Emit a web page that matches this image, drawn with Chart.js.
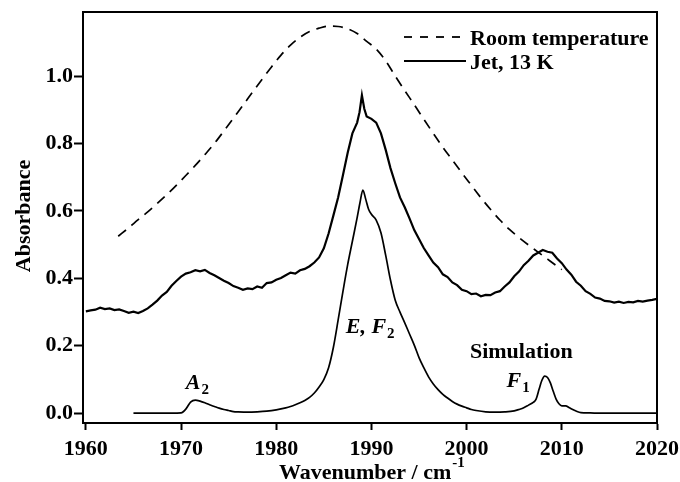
<!DOCTYPE html>
<html>
<head>
<meta charset="utf-8">
<script src="https://cdn.jsdelivr.net/npm/chart.js@4.4.1/dist/chart.umd.min.js"></script>
<style>
  html, body { margin: 0; padding: 0; background: #fff; }
  canvas { display: block; }
</style>
</head>
<body>
<canvas id="spectrum" width="680" height="482"></canvas>
<script>
// Axis ticks
const xTicks = [1960, 1970, 1980, 1990, 2000, 2010, 2020];
const yTicks = [0.0, 0.2, 0.4, 0.6, 0.8, 1.0];

// Room temperature band (dashed)
const roomWn = [1963.4, 1964.5, 1965.5, 1966.5, 1967.5, 1968.5, 1969.5, 1970.5, 1971.5, 1972.5,
  1973.5, 1974.5, 1975.5, 1976.5, 1977.5, 1978.5, 1979.5, 1980.5, 1981.5, 1982.5,
  1983.5, 1984.5, 1985.5, 1986.5, 1987.5, 1988.5, 1989.5, 1990.5, 1991.5, 1992.5,
  1993.5, 1994.5, 1995.5, 1996.5, 1997.5, 1998.5, 1999.5, 2000.5, 2001.5, 2002.5,
  2003.5, 2004.5, 2005.5, 2006.5, 2007.5, 2008.5, 2009.5, 2010.0];
const roomAbs = [0.525, 0.550, 0.574, 0.597, 0.622, 0.648, 0.676, 0.705, 0.735, 0.767,
  0.800, 0.837, 0.875, 0.913, 0.952, 0.990, 1.027, 1.062, 1.092, 1.115,
  1.132, 1.142, 1.148, 1.147, 1.140, 1.126, 1.103, 1.080, 1.045, 1.000,
  0.957, 0.915, 0.872, 0.830, 0.789, 0.751, 0.713, 0.676, 0.639, 0.605,
  0.573, 0.545, 0.521, 0.499, 0.478, 0.457, 0.436, 0.426];

// Jet spectrum, 13 K
const jetWn = [1960.0, 1960.5, 1961.0, 1961.5, 1962.0, 1962.5, 1963.0, 1963.5, 1964.0, 1964.5,
  1965.0, 1965.5, 1966.0, 1966.5, 1967.0, 1967.5, 1968.0, 1968.5, 1969.0, 1969.5,
  1970.0, 1970.5, 1971.0, 1971.5, 1972.0, 1972.5, 1973.0, 1973.5, 1974.0, 1974.5,
  1975.0, 1975.5, 1976.0, 1976.5, 1977.0, 1977.5, 1978.0, 1978.5, 1979.0, 1979.5,
  1980.0, 1980.5, 1981.0, 1981.5, 1982.0, 1982.5, 1983.0, 1983.5, 1984.0, 1984.5,
  1985.0, 1985.5, 1986.0, 1986.5, 1987.0, 1987.5, 1988.0, 1988.5, 1988.75, 1989.0,
  1989.25, 1989.5, 1990.0, 1990.5, 1991.0, 1991.5, 1992.0, 1992.5, 1993.0, 1993.5,
  1994.0, 1994.5, 1995.0, 1995.5, 1996.0, 1996.5, 1997.0, 1997.5, 1998.0, 1998.5,
  1999.0, 1999.5, 2000.0, 2000.5, 2001.0, 2001.5, 2002.0, 2002.5, 2003.0, 2003.5,
  2004.0, 2004.5, 2005.0, 2005.5, 2006.0, 2006.5, 2007.0, 2007.5, 2008.0, 2008.5,
  2009.0, 2009.5, 2010.0, 2010.5, 2011.0, 2011.5, 2012.0, 2012.5, 2013.0, 2013.5,
  2014.0, 2014.5, 2015.0, 2015.5, 2016.0, 2016.5, 2017.0, 2017.5, 2018.0, 2018.5,
  2019.0, 2019.5, 2020.0];
const jetAbs = [0.302, 0.305, 0.307, 0.313, 0.309, 0.311, 0.306, 0.308, 0.303, 0.298,
  0.301, 0.297, 0.303, 0.311, 0.322, 0.334, 0.349, 0.360, 0.378, 0.392,
  0.405, 0.414, 0.418, 0.424, 0.421, 0.425, 0.416, 0.409, 0.401, 0.393,
  0.386, 0.377, 0.372, 0.366, 0.370, 0.368, 0.376, 0.372, 0.386, 0.388,
  0.396, 0.401, 0.409, 0.417, 0.414, 0.424, 0.428, 0.436, 0.447, 0.462,
  0.489, 0.533, 0.586, 0.640, 0.705, 0.772, 0.830, 0.862, 0.893, 0.943,
  0.903, 0.880, 0.873, 0.862, 0.830, 0.781, 0.727, 0.682, 0.640, 0.611,
  0.578, 0.543, 0.517, 0.490, 0.468, 0.447, 0.433, 0.412, 0.404, 0.388,
  0.380, 0.366, 0.362, 0.353, 0.355, 0.347, 0.351, 0.350, 0.358, 0.362,
  0.376, 0.388, 0.406, 0.420, 0.439, 0.452, 0.468, 0.476, 0.484, 0.479,
  0.476, 0.459, 0.445, 0.426, 0.411, 0.390, 0.378, 0.362, 0.354, 0.343,
  0.340, 0.333, 0.332, 0.328, 0.331, 0.327, 0.330, 0.329, 0.333, 0.331,
  0.334, 0.336, 0.339];

// Simulated spectrum
const simWn = [1965.0, 1967.0, 1969.0, 1970.0, 1970.5, 1971.0, 1971.5, 1972.0, 1972.5, 1973.0,
  1973.5, 1974.0, 1974.5, 1975.0, 1975.5, 1976.0, 1977.0, 1978.0, 1979.0, 1980.0,
  1981.0, 1981.5, 1982.0, 1982.5, 1983.0, 1983.5, 1984.0, 1984.5, 1985.0, 1985.5,
  1986.0, 1986.5, 1987.0, 1987.5, 1988.0, 1988.5, 1988.8, 1989.1, 1989.4, 1989.7,
  1990.0, 1990.5, 1991.0, 1991.5, 1992.0, 1992.5, 1993.0, 1993.5, 1994.0, 1994.5,
  1995.0, 1995.5, 1996.0, 1996.5, 1997.0, 1997.5, 1998.0, 1998.5, 1999.0, 1999.5,
  2000.0, 2000.5, 2001.0, 2002.0, 2003.0, 2004.0, 2005.0, 2005.5, 2006.0, 2006.5,
  2007.0, 2007.3, 2007.6, 2007.9, 2008.2, 2008.5, 2008.8, 2009.1, 2009.4, 2009.7,
  2010.0, 2010.4, 2010.8, 2011.2, 2011.6, 2012.0, 2013.0, 2014.0, 2020.0];
const simAbs = [0.000, 0.000, 0.000, 0.001, 0.012, 0.033, 0.039, 0.036, 0.031, 0.025,
  0.020, 0.015, 0.011, 0.008, 0.005, 0.004, 0.003, 0.004, 0.006, 0.010,
  0.016, 0.020, 0.025, 0.031, 0.038, 0.047, 0.060, 0.078, 0.100, 0.135,
  0.195, 0.276, 0.360, 0.440, 0.510, 0.580, 0.625, 0.662, 0.635, 0.605,
  0.590, 0.573, 0.535, 0.468, 0.395, 0.335, 0.300, 0.268, 0.235, 0.202,
  0.165, 0.135, 0.108, 0.087, 0.070, 0.056, 0.045, 0.035, 0.027, 0.021,
  0.016, 0.011, 0.008, 0.004, 0.003, 0.004, 0.007, 0.011, 0.016, 0.024,
  0.032, 0.042, 0.070, 0.097, 0.110, 0.106, 0.090, 0.065, 0.042, 0.028,
  0.022, 0.022, 0.016, 0.010, 0.005, 0.002, 0.001, 0.000, 0.000];

const SERIF = '"Liberation Serif", "Times New Roman", serif';
const BOLD = 'bold 22px ' + SERIF;
const BOLD_ITALIC = 'italic bold 22px ' + SERIF;
const SMALL_BOLD = 'bold 15px ' + SERIF;

function pairs(xs, ys) {
  return xs.map((x, i) => ({ x: x, y: ys[i] }));
}

// frame, in-plot legend, peak labels and axis titles
const decorPlugin = {
  id: 'decor',
  afterDraw(chart) {
    const { ctx, chartArea: a, scales } = chart;
    const px = v => scales.x.getPixelForValue(v);
    const py = v => scales.y.getPixelForValue(v);
    ctx.save();

    ctx.strokeStyle = '#000';
    ctx.lineWidth = 2;
    ctx.strokeRect(a.left, a.top, a.right - a.left, a.bottom - a.top);

    // legend
    ctx.lineWidth = 1.8;
    ctx.setLineDash([8, 8]);
    ctx.beginPath(); ctx.moveTo(404, 37); ctx.lineTo(466, 37); ctx.stroke();
    ctx.setLineDash([]);
    ctx.lineWidth = 2.2;
    ctx.beginPath(); ctx.moveTo(404, 61); ctx.lineTo(466, 61); ctx.stroke();
    ctx.fillStyle = '#000';
    ctx.textBaseline = 'alphabetic';
    ctx.textAlign = 'left';
    ctx.font = BOLD;
    ctx.fillText('Room temperature', 470, 45);
    ctx.fillText('Jet, 13 K', 470, 69);

    // peak labels
    function subLabel(main, sub, x, y, italic) {
      ctx.font = italic ? BOLD_ITALIC : BOLD;
      ctx.fillText(main, x, y);
      const w = ctx.measureText(main).width;
      ctx.font = SMALL_BOLD;
      ctx.fillText(sub, x + w + 1, y + 5);
    }
    subLabel('A', '2', px(1970.5), py(0.072), true);
    ctx.font = BOLD_ITALIC;
    ctx.fillText('E, ', px(1987.3), py(0.238));
    const eW = ctx.measureText('E, ').width;
    subLabel('F', '2', px(1987.3) + eW, py(0.238), true);
    ctx.font = BOLD;
    ctx.fillText('Simulation', px(2000.35), py(0.164));
    subLabel('F', '1', px(2004.2), py(0.078), true);

    // x title with superscript
    ctx.font = BOLD;
    const t = 'Wavenumber / cm';
    const tw = ctx.measureText(t).width;
    const tx = 279;
    ctx.fillText(t, tx, 479);
    ctx.font = SMALL_BOLD;
    ctx.fillText('-1', tx + tw + 1, 467);

    // y title
    ctx.font = BOLD;
    ctx.translate(30, 216);
    ctx.rotate(-Math.PI / 2);
    ctx.textAlign = 'center';
    ctx.fillText('Absorbance', 0, 0);

    ctx.restore();
  }
};

const tickFont = { family: SERIF, size: 22, weight: 'bold' };

new Chart(document.getElementById('spectrum'), {
  type: 'line',
  data: {
    datasets: [
      {
        label: 'Room temperature',
        data: pairs(roomWn, roomAbs),
        borderColor: '#000',
        borderWidth: 1.7,
        borderDash: [10, 7],
        pointRadius: 0,
        cubicInterpolationMode: 'monotone'
      },
      {
        label: 'Jet, 13 K',
        data: pairs(jetWn, jetAbs),
        borderColor: '#000',
        borderWidth: 2.2,
        pointRadius: 0,
        tension: 0
      },
      {
        label: 'Simulation',
        data: pairs(simWn, simAbs),
        borderColor: '#000',
        borderWidth: 1.7,
        pointRadius: 0,
        cubicInterpolationMode: 'monotone'
      }
    ]
  },
  options: {
    responsive: false,
    animation: false,
    layout: { padding: { left: 0, right: 23, top: 12, bottom: 0 } },
    plugins: {
      legend: { display: false },
      tooltip: { enabled: false }
    },
    scales: {
      x: {
        type: 'linear',
        min: 1959.7,
        max: 2020,
        afterBuildTicks: s => { s.ticks = xTicks.map(v => ({ value: v })); },
        afterFit: s => { s.height = 59; s.paddingLeft = 0; s.paddingRight = 0; },
        grid: {
          drawOnChartArea: false,
          drawTicks: true,
          tickLength: 7,
          tickWidth: 2,
          tickColor: '#000'
        },
        border: { display: true, color: '#000', width: 2 },
        ticks: {
          color: '#000',
          font: tickFont,
          padding: 6,
          maxRotation: 0,
          callback: v => String(v)
        }
      },
      y: {
        type: 'linear',
        min: -0.029,
        max: 1.19,
        afterBuildTicks: s => { s.ticks = yTicks.map(v => ({ value: v })); },
        afterFit: s => { s.width = 83; s.paddingTop = 0; s.paddingBottom = 0; },
        grid: {
          drawOnChartArea: false,
          drawTicks: true,
          tickLength: 9,
          tickWidth: 2,
          tickColor: '#000'
        },
        border: { display: true, color: '#000', width: 2 },
        ticks: {
          color: '#000',
          font: tickFont,
          padding: 1,
          callback: v => v.toFixed(1)
        }
      }
    }
  },
  plugins: [decorPlugin]
});
</script>
</body>
</html>
